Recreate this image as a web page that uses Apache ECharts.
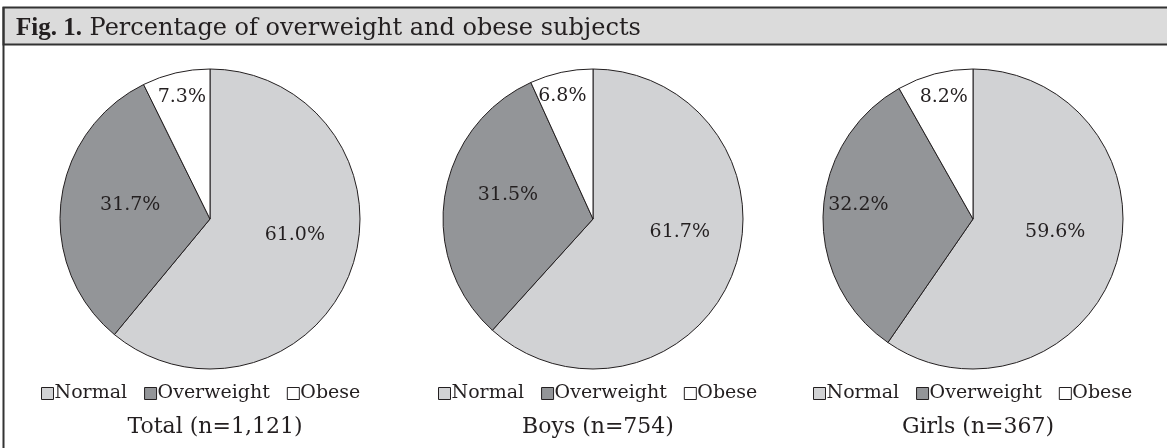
<!DOCTYPE html>
<html>
<head>
<meta charset="utf-8">
<script src="https://cdn.jsdelivr.net/npm/echarts@6/dist/echarts.min.js"></script>
<style>
html,body{margin:0;padding:0;background:#fff;}
#chart{width:1167px;height:448px;}
</style>
</head>
<body>
<div id="chart"></div>
<script>
const categories = ['Normal', 'Overweight', 'Obese'];
const totalValues = [61.0, 31.7, 7.3];
const boysValues = [61.7, 31.5, 6.8];
const girlsValues = [59.6, 32.2, 8.2];
const groupTitles = ['Total (n=1,121)', 'Boys (n=754)', 'Girls (n=367)'];
const figLabel = 'Fig. 1.';
const figTitle = ' Percentage of overweight and obese subjects';

// styling / layout config
const colors = ['#d1d2d4', '#939598', '#ffffff'];
const FONT = 'DejaVu Serif';
const R = 150;
const centersX = [210, 593, 973];
const centerY = 219;
// label placement inside each pie: [radius fraction, angle in degrees clockwise from 12 o'clock]
const labelPlacement = [
  [[0.575, 100.5], [0.54, 280], [0.835, 347]],
  [[0.585, 98.5], [0.59, 286], [0.845, 346]],
  [[0.555, 99], [0.77, 277], [0.835, 346.5]]
];
const groups = [totalValues, boysValues, girlsValues];

const chart = echarts.init(document.getElementById('chart'));

function makeSeries(values, idx) {
  return {
    type: 'pie',
    name: groupTitles[idx],
    center: [centersX[idx], centerY],
    radius: [0, R],
    startAngle: 90,
    clockwise: true,
    silent: true,
    animation: false,
    itemStyle: { borderColor: '#231f20', borderWidth: 1 },
    label: {
      show: true,
      position: 'inside',
      formatter: p => p.value.toFixed(1) + '%',
      fontFamily: FONT,
      fontSize: 19,
      color: '#231f20'
    },
    labelLine: { show: false },
    labelLayout: function (params) {
      const pl = labelPlacement[idx][params.dataIndex];
      const a = pl[1] * Math.PI / 180;
      return {
        x: centersX[idx] + pl[0] * R * Math.sin(a),
        y: centerY - pl[0] * R * Math.cos(a),
        align: 'center',
        verticalAlign: 'middle'
      };
    },
    data: categories.map((c, i) => ({ name: c, value: values[i], itemStyle: { color: colors[i] } }))
  };
}

const series = groups.map((v, i) => makeSeries(v, i));

const legendLefts = [36, 433, 808];
const legends = legendLefts.map(l => ({
  data: categories,
  left: l,
  top: 379,
  icon: 'rect',
  itemWidth: 12,
  itemHeight: 12,
  itemGap: 17,
  selectedMode: false,
  itemStyle: { borderColor: '#231f20', borderWidth: 1 },
  textStyle: { fontFamily: FONT, fontSize: 19, color: '#231f20', padding: [0, 0, 0, -4] }
}));

const titles = [{
  left: 11,
  top: 11,
  text: '{b|' + figLabel + '}{n|' + figTitle + '}',
  textStyle: {
    fontWeight: 'normal',
    rich: {
      b: { fontFamily: 'Liberation Serif', fontWeight: 'bold', fontSize: 25, color: '#231f20' },
      n: { fontFamily: FONT, fontWeight: 'normal', fontSize: 24, color: '#231f20' }
    }
  }
}].concat(groupTitles.map((t, i) => ({
  text: t,
  left: centersX[i],
  top: 411,
  textAlign: 'center',
  textStyle: { fontFamily: FONT, fontSize: 22, fontWeight: 'normal', color: '#231f20' }
})));

chart.setOption({
  animation: false,
  backgroundColor: '#ffffff',
  graphic: [
    { type: 'rect', z: -10, shape: { x: 3.5, y: 7.5, width: 1170, height: 37 }, style: { fill: '#dbdbdb', stroke: '#333333', lineWidth: 2 } },
    { type: 'line', z: -9, shape: { x1: 3.5, y1: 7, x2: 3.5, y2: 448 }, style: { stroke: '#333333', lineWidth: 2 } }
  ],
  title: titles,
  legend: legends,
  series: series
});
</script>
</body>
</html>
